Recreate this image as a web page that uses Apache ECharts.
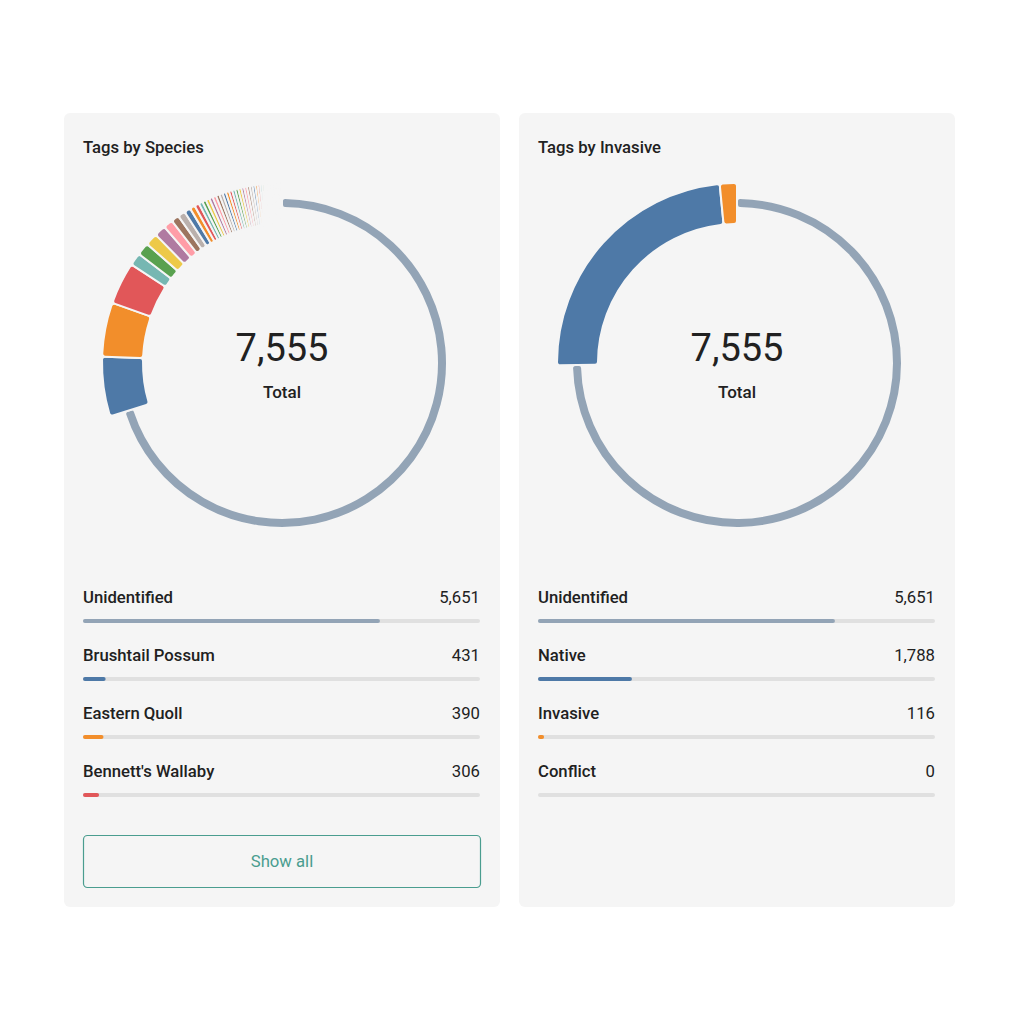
<!DOCTYPE html>
<html>
<head>
<meta charset="utf-8">
<title>Tags</title>
<script src="https://cdn.jsdelivr.net/npm/echarts@6/dist/echarts.min.js"></script>
<style>
  html, body { margin: 0; padding: 0; background: #ffffff; }
  #chart { width: 1024px; height: 1024px; }
</style>
</head>
<body>
<div id="chart"></div>
<script>
// data
var speciesNames = ['Unidentified', 'Brushtail Possum', 'Eastern Quoll', "Bennett's Wallaby"];
var speciesTags = [5651, 431, 390, 306];
// the long tail of smaller species in the donut (names not shown)
var otherSpeciesTags = [92, 92, 90, 83, 69, 57, 54, 46, 38, 34,
  28, 27, 27, 26, 26, 25, 25, 24, 24, 23, 23, 22, 22, 21, 21, 20, 20, 19,
  18, 17, 16, 15, 14, 13, 12, 11, 10, 9, 8, 7, 6, 6,
  5, 5, 4, 4, 3, 3, 2, 2, 1, 1];
var invasiveNames = ['Unidentified', 'Native', 'Invasive', 'Conflict'];
var invasiveTags = [5651, 1788, 116, 0];

var palette = ['#4e79a7', '#f28e2b', '#e15759', '#76b7b2', '#59a14f',
  '#edc948', '#b07aa1', '#ff9da7', '#9c755f', '#bab0ac'];
var unidentifiedColor = '#93a4b6';
var cardBg = '#f5f5f5';
var textColor = '#212121';
var font = 'Roboto, "Noto Sans", sans-serif';

var totalTags = invasiveTags.reduce(function (a, b) { return a + b; }, 0);

function colorAt(i) {
  return i === 0 ? unidentifiedColor : palette[(i - 1) % palette.length];
}

// one pie for the thin grey ring, one for the thick coloured slices
function pieData(names, values, ringPart) {
  return values.map(function (v, i) {
    var visible = (i === 0) === ringPart;
    return {
      name: names[i],
      value: v,
      itemStyle: visible
        ? { color: colorAt(i), borderColor: cardBg, borderWidth: 2, borderRadius: 3 }
        : { color: 'rgba(0,0,0,0)', borderWidth: 0 }
    };
  });
}

function donut(names, values, center) {
  var base = {
    type: 'pie',
    center: center,
    startAngle: 90,
    clockwise: true,
    silent: true,
    avoidLabelOverlap: false,
    label: { show: false },
    labelLine: { show: false },
    emphasis: { disabled: true }
  };
  return [
    Object.assign({}, base, { radius: [155, 165], data: pieData(names, values, true) }),
    Object.assign({}, base, { radius: [139, 180], data: pieData(names, values, false) })
  ];
}

function rows(idx, names, values) {
  var labelBase = { show: true, fontFamily: font, fontSize: 16.7, color: textColor, verticalAlign: 'middle' };
  return [
    {
      type: 'bar', xAxisIndex: idx, yAxisIndex: idx, silent: true,
      barWidth: 4, barGap: '-100%',
      data: values.map(function () { return totalTags; }),
      itemStyle: { color: '#e0e0e0', borderRadius: 2 },
      label: Object.assign({}, labelBase, { position: [0, -22], align: 'left', fontWeight: 500, formatter: '{b}' })
    },
    {
      type: 'bar', xAxisIndex: idx, yAxisIndex: idx, silent: true,
      barWidth: 4, barGap: '-100%',
      data: values.map(function () { return totalTags; }),
      itemStyle: { color: 'rgba(0,0,0,0)' },
      label: Object.assign({}, labelBase, {
        position: ['100%', -22], align: 'right', fontWeight: 400,
        formatter: function (p) { return values[p.dataIndex].toLocaleString('en-US'); }
      })
    },
    {
      type: 'bar', xAxisIndex: idx, yAxisIndex: idx, silent: true,
      barWidth: 4, barGap: '-100%',
      data: values.map(function (v, i) { return { value: v, itemStyle: { color: colorAt(i) } }; }),
      itemStyle: { borderRadius: 2 }
    }
  ];
}

function txt(x, y, text, size, weight, color, align) {
  return {
    type: 'text', x: x, y: y, silent: true,
    style: {
      text: text, fill: color || textColor,
      font: (weight || 400) + ' ' + size + 'px ' + font,
      align: align || 'left', verticalAlign: 'middle',
      textAlign: align || 'left', textVerticalAlign: 'middle'
    }
  };
}

var speciesPieNames = speciesNames.concat(otherSpeciesTags.map(function (_, i) { return 'Species ' + (i + 5); }));
var speciesPieValues = speciesTags.concat(otherSpeciesTags);

var myChart = echarts.init(document.getElementById('chart'), null, { renderer: 'svg' });

var option = {
  animation: false,
  backgroundColor: '#ffffff',
  graphic: [
    { type: 'rect', z: -10, silent: true, shape: { x: 64, y: 113, width: 436, height: 794, r: 6 }, style: { fill: cardBg } },
    { type: 'rect', z: -10, silent: true, shape: { x: 519, y: 113, width: 436, height: 794, r: 6 }, style: { fill: cardBg } },
    txt(83, 147, 'Tags by Species', 16.7, 500),
    txt(538, 147, 'Tags by Invasive', 16.7, 500),
    txt(282, 348, totalTags.toLocaleString('en-US'), 38, 400, textColor, 'center'),
    txt(282, 392, 'Total', 17, 500, textColor, 'center'),
    txt(737, 348, totalTags.toLocaleString('en-US'), 38, 400, textColor, 'center'),
    txt(737, 392, 'Total', 17, 500, textColor, 'center'),
    { type: 'rect', silent: true, shape: { x: 83.5, y: 835.5, width: 397, height: 52, r: 4 }, style: { fill: 'none', stroke: '#4a9d8f', lineWidth: 1.2 } },
    txt(282, 861, 'Show all', 16.7, 400, '#4a9d8f', 'center')
  ],
  grid: [
    { left: 83, top: 592, width: 397, height: 232 },
    { left: 538, top: 592, width: 397, height: 232 }
  ],
  xAxis: [
    { gridIndex: 0, type: 'value', min: 0, max: totalTags, show: false },
    { gridIndex: 1, type: 'value', min: 0, max: totalTags, show: false }
  ],
  yAxis: [
    { gridIndex: 0, type: 'category', data: speciesNames, inverse: true, show: false },
    { gridIndex: 1, type: 'category', data: invasiveNames, inverse: true, show: false }
  ],
  series: [].concat(
    donut(speciesPieNames, speciesPieValues, [282, 363]),
    donut(invasiveNames, invasiveTags, [737, 363]),
    rows(0, speciesNames, speciesTags),
    rows(1, invasiveNames, invasiveTags)
  )
};

if (option && typeof option === 'object') {
  myChart.setOption(option);
}
window.addEventListener('resize', myChart.resize);
</script>
</body>
</html>
